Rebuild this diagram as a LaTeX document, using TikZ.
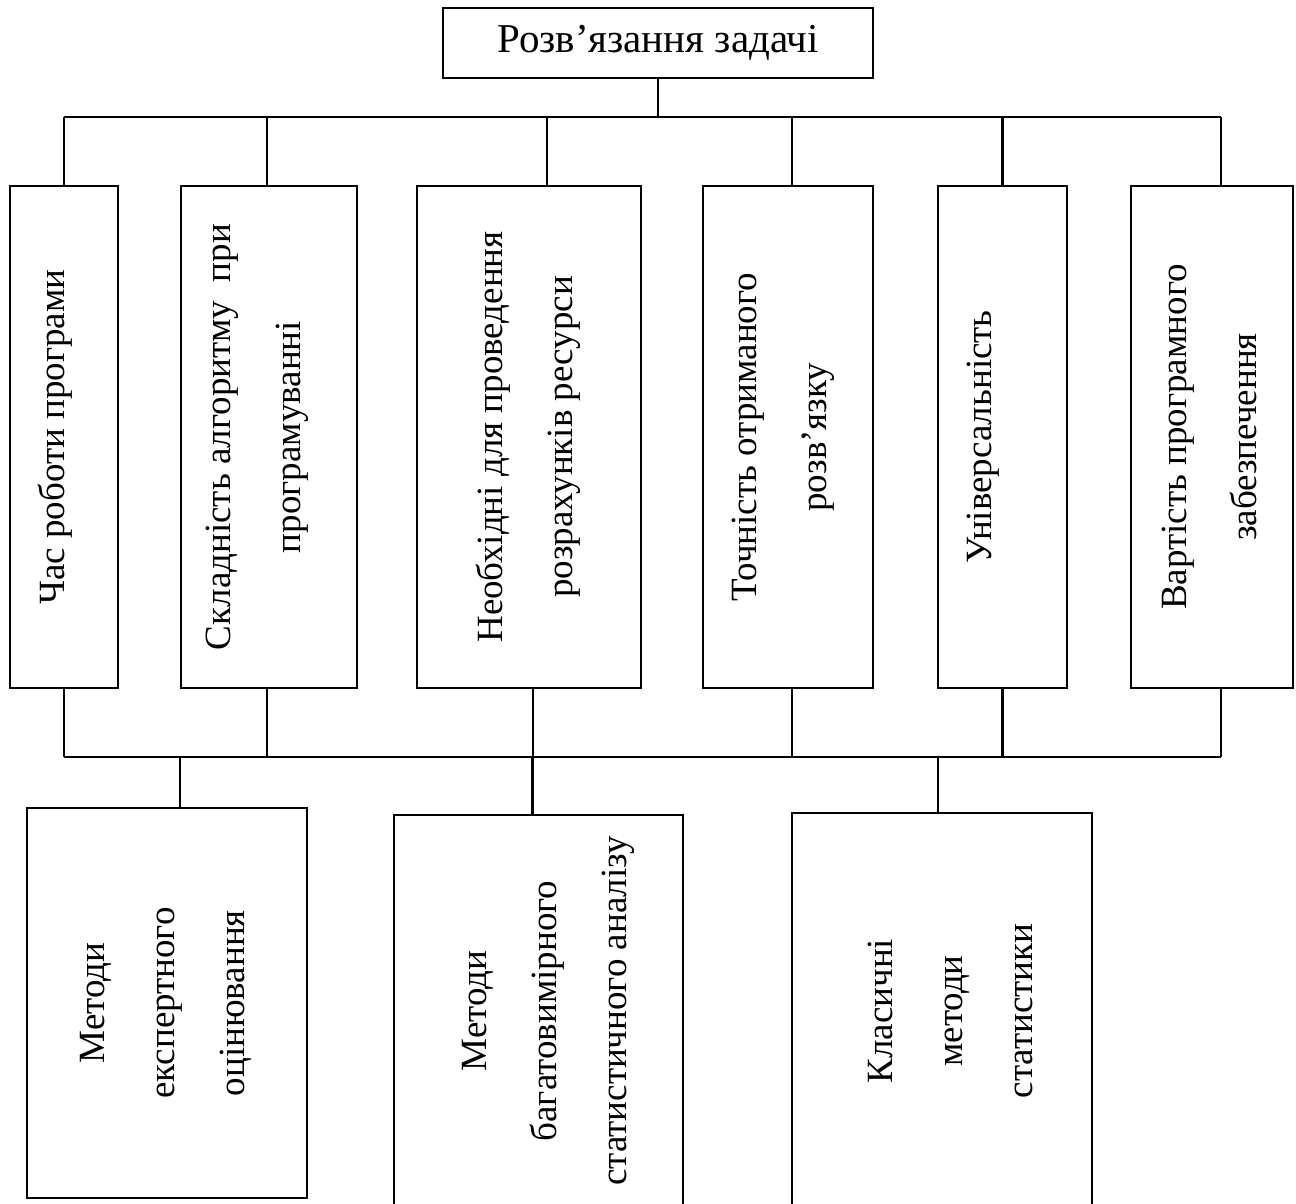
\documentclass[tikz,border=0pt]{standalone}
\usepackage{fontspec}
\setmainfont{LiberationSerif}[Extension=.ttf, UprightFont=*-Regular,
  BoldFont=*-Bold, ItalicFont=*-Italic]
\usetikzlibrary{positioning,calc}

\tikzset{
  box/.style={draw, line width=1.2pt, inner sep=0pt},
  crit/.style={box, minimum height=251pt},
  meth/.style={box, minimum height=196pt},
  vtext/.style={rotate=90, align=center, inner sep=0pt,
    font=\fontsize{18.5}{35}\selectfont},
  link/.style={line width=1.1pt},
}

\begin{document}
\begin{tikzpicture}[x=0.5pt, y=-0.5pt]
  \useasboundingbox (0,0) rectangle (1296,1204);
  \coordinate (topbus) at (0,117);
  \coordinate (lowbus) at (0,757);
  % goal
  \node (root) at (658,43) [box, minimum width=215pt, minimum height=35pt,
    font=\fontsize{20.5}{24}\selectfont] {Розв’язання задачі};
  % criteria
  \node (c1) at (64,437) [crit, minimum width=54pt] {};
  \node (c2) at (269,437) [crit, minimum width=88pt] {};
  \node (c3) at (529,437) [crit, minimum width=112pt] {};
  \node (c4) at (788,437) [crit, minimum width=85pt] {};
  \node (c5) at (1002.5,437) [crit, minimum width=64.5pt] {};
  \node (c6) at (1212,437) [crit, minimum width=81pt] {};
  \node (t1) at (55,437) [vtext] {Час роботи програми};
  \node (t2) at (257,437) [vtext] {Складність алгоритму\ \ при\\програмуванні};
  \node (t3) at (528,437) [vtext] {Необхідні для проведення\\розрахунків ресурси};
  \node (t4) at (783,437) [vtext] {Точність отриманого\\розв’язку};
  \node (t5) at (983,437) [vtext] {Універсальність};
  \node (t6) at (1209,437) [vtext] {Вартість програмного\\забезпечення};
  % methods
  \node (m1) at (167,1003) [meth, minimum width=140pt, minimum height=195pt] {};
  \node (m2) at (538.5,1011) [meth, minimum width=144.5pt] {};
  \node (m3) at (942,1010) [meth, minimum width=150pt, minimum height=197pt] {};
  \node (b1) at (166,1003) [vtext] {Методи\\експертного\\оцінювання};
  \node (b2) at (548,1011) [vtext] {Методи\\багатовимірного\\статистичного аналізу};
  \node (b3) at (950,1011) [vtext] {Класичні\\методи\\статистики};
  % connectors
  \draw [link] (root.south) -- (root.south |- topbus);
  \foreach \n/\s/\r in {c1/0/0, c2/-2/-2, c3/18/4, c4/4/4, c5/0/0, c6/9/9} {
    \coordinate (\n-t) at ([xshift=\s*0.5pt]\n.north);
    \coordinate (\n-b) at ([xshift=\r*0.5pt]\n.south);
    \draw [link] (\n-t |- topbus) -- (\n-t);
    \draw [link] (\n-b) -- (\n-b |- lowbus);
  }
  \draw [link] (c1-t |- topbus) -- (c6-t |- topbus);
  \draw [link] (c1-b |- lowbus) -- (c6-b |- lowbus);
  \foreach \n/\s in {m1/13, m2/-6, m3/-4} {
    \coordinate (\n-t) at ([xshift=\s*0.5pt]\n.north);
    \draw [link] (\n-t |- lowbus) -- (\n-t);
  }
\end{tikzpicture}
\end{document}
